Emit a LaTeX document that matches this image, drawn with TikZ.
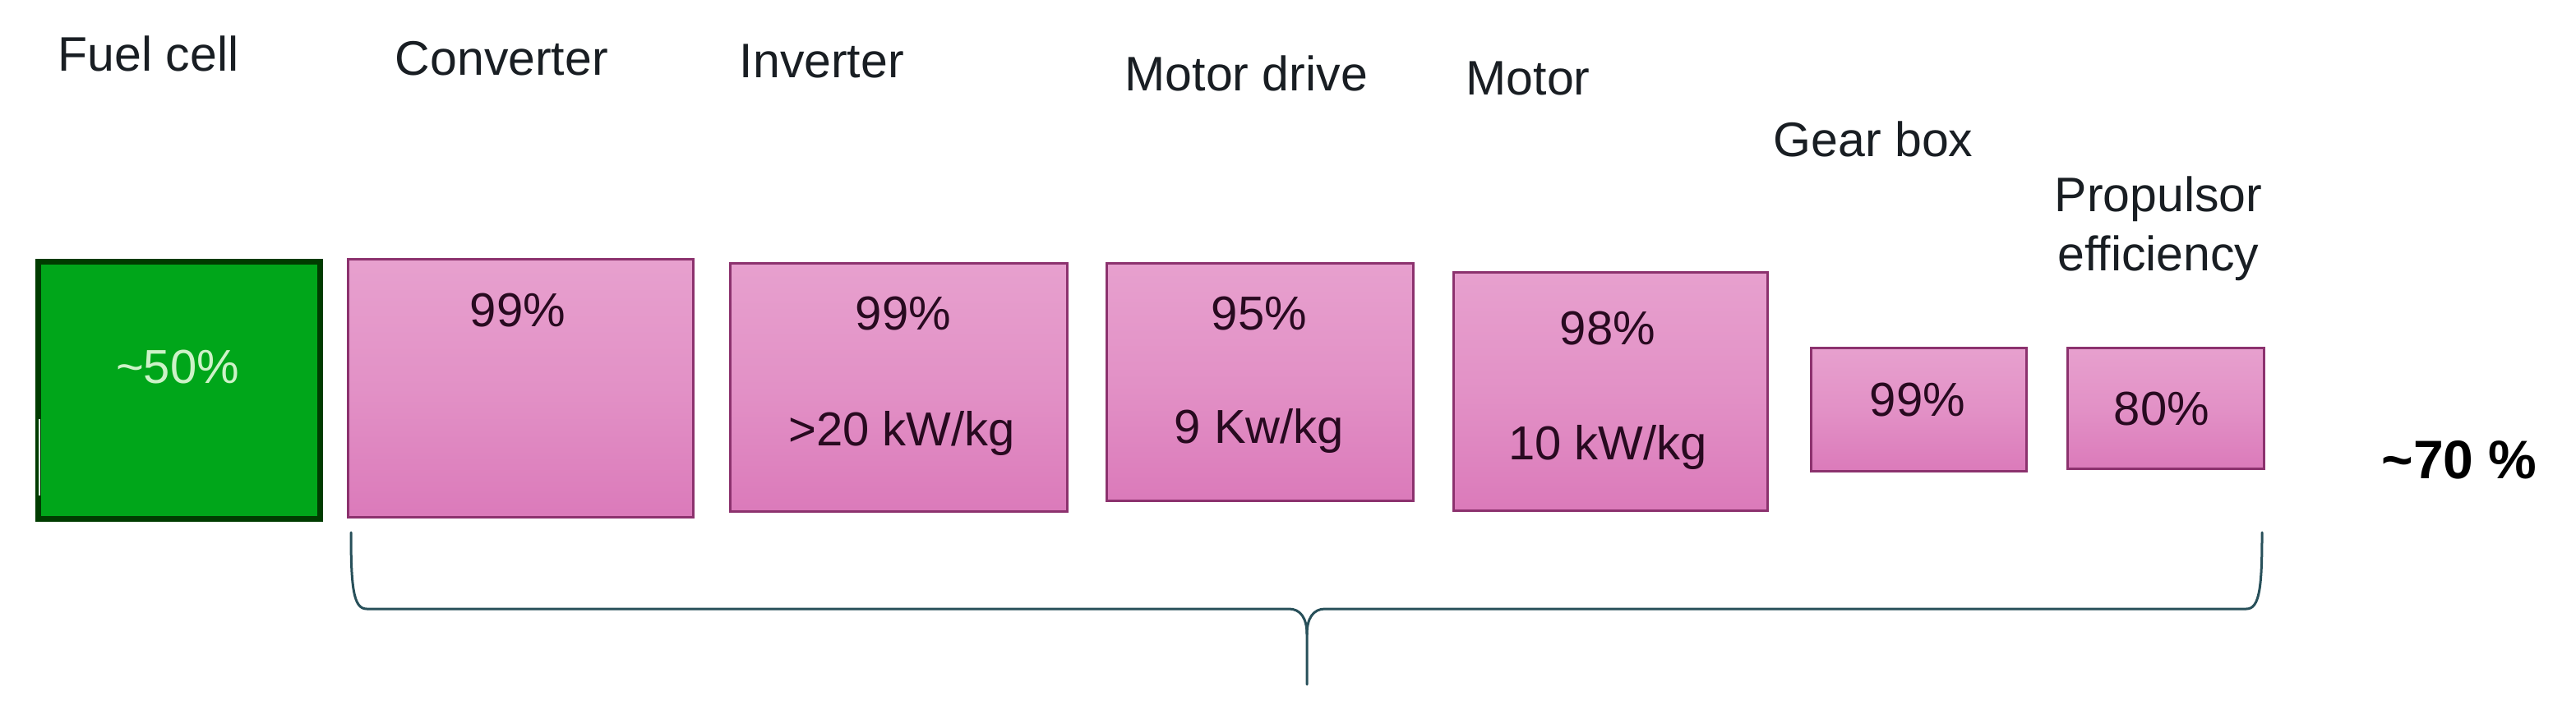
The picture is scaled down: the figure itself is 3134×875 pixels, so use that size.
\documentclass[tikz,border=0pt]{standalone}
\usepackage{fontspec}
\setmainfont{Liberation Sans}
\definecolor{pinktop}{RGB}{231,160,206}
\definecolor{pinkbot}{RGB}{219,122,186}
\definecolor{pinkedge}{RGB}{140,50,110}
\definecolor{greenfill}{RGB}{0,166,26}
\definecolor{greenedge}{RGB}{0,60,0}
\definecolor{palegreen}{RGB}{205,242,200}
\definecolor{bracecol}{RGB}{40,80,90}
\definecolor{labelcol}{RGB}{25,30,35}
\definecolor{valcol}{RGB}{40,10,32}
\tikzset{
  pinkbox/.style={draw=pinkedge, line width=0.75pt, top color=pinktop, bottom color=pinkbot, middle color=pinktop!60!pinkbot, rectangle, inner sep=0pt},
  greenbox/.style={draw=greenedge, line width=1.75pt, fill=greenfill, rectangle, inner sep=0pt},
  lbl/.style={inner sep=0pt, anchor=base west, text=labelcol, font=\fontsize{14.75}{17}\selectfont},
  val/.style={inner sep=0pt, anchor=base, text=valcol, font=\fontsize{14.5}{17}\selectfont},
  bracestyle/.style={draw=bracecol, line width=0.75pt, line cap=round, line join=round},
}
\begin{document}
\begin{tikzpicture}[x=0.25pt, y=-0.25pt]
\useasboundingbox[fill=white] (0,0) rectangle (3134,875);
% boxes
\node[greenbox, minimum width=85.75pt, minimum height=78.25pt] (fc) at (218,475) {};
\node[pinkbox, minimum width=105pt, minimum height=78.5pt] (conv) at (633,473) {};
\node[pinkbox, minimum width=102.5pt, minimum height=75.5pt] (inv) at (1093,472) {};
\node[pinkbox, minimum width=93.25pt, minimum height=72.25pt] (md) at (1532.5,465.5) {};
\node[pinkbox, minimum width=95.5pt, minimum height=72.5pt] (mot) at (1959,477) {};
\node[pinkbox, minimum width=65.5pt, minimum height=37.5pt] (gb) at (2334,499) {};
\node[pinkbox, minimum width=59.75pt, minimum height=36.75pt] (prop) at (2634.5,497.5) {};
\draw[white!85!greenfill, line width=0.5pt] (48,510) -- (48,603);
% labels
\node[lbl] (lfc) at (70,87) {Fuel cell};
\node[lbl] (lconv) at (480,92) {Converter};
\node[lbl] (linv) at (899,95) {Inverter};
\node[lbl] (lmd) at (1368,111) {Motor drive};
\node[lbl] (lmot) at (1783,116) {Motor};
\node[lbl] (lgb) at (2157,191) {Gear box};
\node[lbl, anchor=base] (lprop) at (2626,258) {Propulsor};
\node[lbl, anchor=base] (leff) at (2626,330) {efficiency};
% values
\node[val, text=palegreen] (vfc) at (216,467) {\textasciitilde50\%};
\node[val] (vconv) at (630,398) {99\%};
\node[val] (vinv1) at (1099,402) {99\%};
\node[val] (vinv2) at (1097,543) {>20 kW/kg};
\node[val] (vmd1) at (1532,402) {95\%};
\node[val] (vmd2) at (1532,540) {9 Kw/kg};
\node[val] (vmot1) at (1956,420) {98\%};
\node[val] (vmot2) at (1956,560) {10 kW/kg};
\node[val] (vgb) at (2333,507) {99\%};
\node[val] (vprop) at (2630,518) {80\%};
\node[inner sep=0pt, anchor=base, text=black, font=\bfseries\fontsize{16.5}{19}\selectfont] (total) at (2992,583) {\textasciitilde70 \%};
% brace
\coordinate (bl) at (427,648);
\coordinate (br) at (2752,648);
\coordinate (btip) at (1590,833);
\draw[bracestyle] (bl) .. controls (427,715) and (430,741) .. (446,741) -- (1568,741)
  .. controls (1582,741) and (1590,752) .. (1590,772) -- (btip);
\draw[bracestyle] (br) .. controls (2752,715) and (2749,741) .. (2733,741) -- (1612,741)
  .. controls (1598,741) and (1590,752) .. (1590,772);
\end{tikzpicture}
\end{document}
